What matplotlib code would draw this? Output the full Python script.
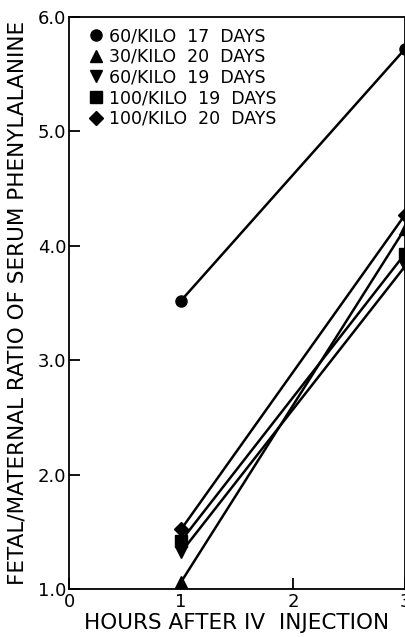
import matplotlib.pyplot as plt

# Stunden nach IV-Injektion
hours = [1, 3]

# Serien: Label, Marker, Werte bei 1 h und 3 h
labels = ["60/KILO  17  DAYS", "30/KILO  20  DAYS", "60/KILO  19  DAYS",
          "100/KILO  19  DAYS", "100/KILO  20  DAYS"]
markers = ["o", "^", "v", "s", "D"]
ratio_60_17 = [3.52, 5.72]
ratio_30_20 = [1.06, 4.15]
ratio_60_19 = [1.32, 3.82]
ratio_100_19 = [1.42, 3.93]
ratio_100_20 = [1.52, 4.27]
series = [ratio_60_17, ratio_30_20, ratio_60_19, ratio_100_19, ratio_100_20]

xticks = [0, 1, 2, 3]
yticks = [1.0, 2.0, 3.0, 4.0, 5.0, 6.0]

fig = plt.figure(figsize=(4.06, 6.37), dpi=100)
ax = fig.add_axes([0.170, 0.0754, 0.8275, 0.898])

for vals, m, lab in zip(series, markers, labels):
    ax.plot(hours, vals, color="black", linewidth=1.8, marker=m,
            markersize=8 if m != "D" else 7, label=lab)

ax.set_xlim(0, 3)
ax.set_ylim(1.0, 6.0)
ax.set_xticks(xticks)
ax.set_xticklabels([str(t) for t in xticks])
ax.set_yticks(yticks)
ax.set_yticklabels([f"{t:.1f}" for t in yticks])
ax.tick_params(direction="in", length=8, width=1.3, labelsize=13, pad=3)
ax.tick_params(axis="y", pad=2)
for s in ax.spines.values():
    s.set_linewidth(1.3)

ax.set_xlabel("HOURS AFTER IV  INJECTION", fontsize=15.5, labelpad=1)
ax.set_ylabel("FETAL/MATERNAL RATIO OF SERUM PHENYLALANINE", fontsize=15.5)
ax.yaxis.set_label_coords(-0.125, 0.5)

# Legende nur mit Markern
handles = [plt.Line2D([], [], color="black", marker=m, linestyle="none",
                      markersize=8 if m != "D" else 7) for m in markers]
ax.legend(handles, labels, loc="upper left", frameon=False, fontsize=12.5,
          handlelength=0.6, handletextpad=0.45, labelspacing=0.15,
          borderaxespad=0.2, bbox_to_anchor=(0.035, 1.0))

fig.savefig("out.png", dpi=100)
